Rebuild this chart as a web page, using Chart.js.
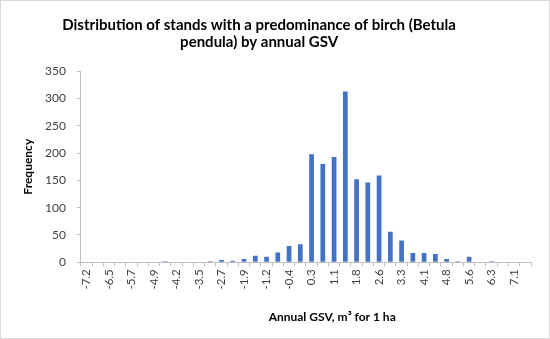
<!DOCTYPE html>
<html>
<head>
<meta charset="utf-8">
<script src="https://cdn.jsdelivr.net/npm/chart.js@4/dist/chart.umd.min.js"></script>
<style>
  html, body { margin: 0; padding: 0; background: #fff; }
  #wrap { width: 550px; height: 339px; box-sizing: border-box; border: 1px solid #d9d9d9; position: relative; }
</style>
</head>
<body>
<div id="wrap"><canvas id="myChart"></canvas></div>
<script>
// bins of annual GSV (every other one is labelled on the axis)
const bins = ['-7.2', '-6.8', '-6.5', '-6.1', '-5.7', '-5.3', '-4.9', '-4.6', '-4.2', '-3.8',
  '-3.5', '-3.1', '-2.7', '-2.3', '-1.9', '-1.6', '-1.2', '-0.8', '-0.4', '-0.1',
  '0.3', '0.7', '1.1', '1.5', '1.8', '2.2', '2.6', '3.0', '3.3', '3.7',
  '4.1', '4.5', '4.8', '5.2', '5.6', '6.0', '6.3', '6.7', '7.1', '7.5'];
const frequency = [1, 0, 0, 0, 0, 0, 0, 2, 0, 0,
  1, 2, 4, 3, 6, 12, 10, 18, 30, 33,
  198, 180, 193, 313, 152, 146, 159, 56, 40, 17,
  17, 15, 6, 2, 10, 0, 2, 0, 0, 0];
const yTicks = [0, 50, 100, 150, 200, 250, 300, 350];

const font = 'Lato, "Open Sans", sans-serif';
const ctx = document.getElementById('myChart');

new Chart(ctx, {
  type: 'bar',
  data: {
    labels: bins,
    datasets: [{
      label: 'Frequency',
      data: frequency,
      backgroundColor: '#4472C4',
      barPercentage: 0.42,
      categoryPercentage: 1
    }]
  },
  options: {
    responsive: true,
    maintainAspectRatio: false,
    animation: false,
    layout: { padding: { top: 8, left: 19, right: 18, bottom: 14 } },
    plugins: {
      legend: { display: false },
      tooltip: { enabled: false },
      title: {
        display: true,
        // trailing spaces nudge the centred title a bit to the left, like the original
        text: ['Distribution of stands with a predominance of birch (Betula         ', 'pendula) by annual GSV         '],
        color: '#000',
        font: { family: font, size: 15, weight: 'bold', lineHeight: 1.14 },
        padding: { top: 8, bottom: 20 }
      }
    },
    scales: {
      x: {
        border: { color: '#bfbfbf' },
        grid: { drawOnChartArea: false, tickLength: 4, color: '#bfbfbf', offset: true },
        ticks: {
          autoSkip: false,
          minRotation: 90,
          maxRotation: 90,
          padding: 3,
          color: '#404040',
          font: { family: font, size: 11.5 },
          callback: function (v, i) { return i % 2 === 0 ? bins[i] : ''; }
        },
        title: {
          display: true,
          text: '                  Annual GSV, m³ for 1 ha',
          color: '#000',
          font: { family: font, size: 12, weight: 'bold' },
          padding: { top: 17, bottom: 0 }
        }
      },
      y: {
        min: 0,
        max: 350,
        afterBuildTicks: function (axis) { axis.ticks = yTicks.map(v => ({ value: v })); },
        border: { color: '#bfbfbf' },
        grid: { drawOnChartArea: false, tickLength: 4, color: '#bfbfbf' },
        ticks: {
          padding: 11,
          color: '#404040',
          font: { family: font, size: 12 }
        },
        title: {
          display: true,
          text: 'Frequency',
          color: '#000',
          font: { family: font, size: 12, weight: 'bold', lineHeight: 1 },
          padding: { top: 2, bottom: 0 }
        }
      }
    }
  }
});
</script>
</body>
</html>
